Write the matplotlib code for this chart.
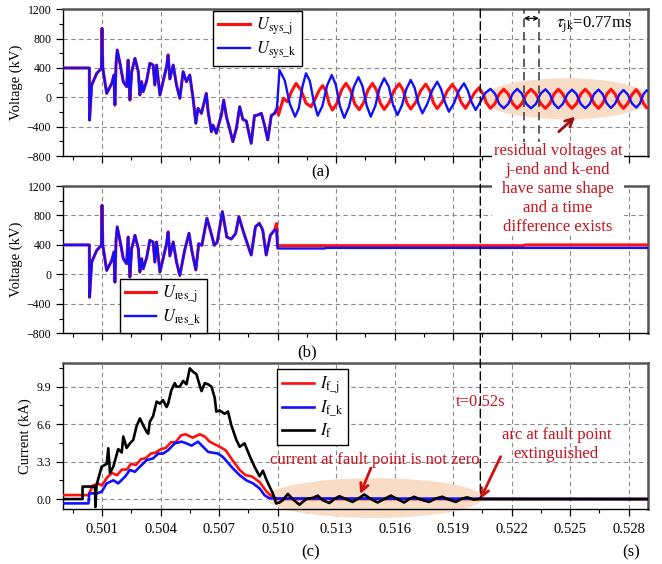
import numpy as np
import matplotlib
matplotlib.use('Agg')
import matplotlib.pyplot as plt
from matplotlib.patches import Ellipse, ConnectionPatch
from matplotlib.ticker import MultipleLocator, FormatStrFormatter

plt.rcParams['font.family'] = ['Liberation Serif', 'DejaVu Serif']
plt.rcParams['mathtext.fontset'] = 'stix'

# ----------------------------------------------------------------------------- data
# voltages (kV), common part of all four voltage traces
T_SHARED = [0.4990, 0.50035, 0.50036, 0.50047, 0.50073, 0.50097, 0.50100, 0.50104, 0.50124, 0.50150,
            0.50161, 0.50166, 0.50172, 0.50178, 0.50192, 0.50209, 0.50226, 0.50234, 0.50243, 0.50252,
            0.50269, 0.50286, 0.50294, 0.50303, 0.50311, 0.50329, 0.50345, 0.50362, 0.50371, 0.50380,
            0.50397, 0.50413, 0.50431, 0.50439, 0.50448, 0.50465, 0.50482, 0.50499]
U_SHARED = [400, 400, -310, 168, 327, 395, 940, 395, 54, 190,
            304, -105, 463, 645, 463, 213, 145, 508, -37, 349,
            531, 349, 31, 213, 76, 227, 463, 440, 168, 440,
            31, 213, 418, 577, 250, 440, 168, -14]

# system side voltages, common part after the split from U_res
T_SYS_MID = [0.50516, 0.50533, 0.50550, 0.50567, 0.50581, 0.50592, 0.50610, 0.50635, 0.50644, 0.50661,
             0.50669, 0.50686, 0.50712, 0.50724, 0.50738, 0.50754, 0.50771, 0.50789, 0.50806, 0.50822,
             0.50840, 0.50848, 0.50865, 0.50882, 0.50899, 0.50917, 0.50933, 0.50950, 0.50968, 0.50985,
             0.50997]
U_SYS_MID = [349, 213, 304, -14, -354, -150, -218, 54, -195, -469,
             -378, -490, -241, -37, -268, -423, -605, -423, -128, -300,
             -323, -423, -627, -250, -241, -218, -378, -580, -250, -218,
             -150]

T_SYS_J = [0.51005, 0.51030, 0.51050, 0.51072, 0.51095, 0.51120, 0.51146, 0.51172, 0.51192, 0.51212,
           0.51231, 0.51248, 0.51265, 0.51282, 0.51305, 0.51328, 0.51351, 0.51374, 0.51396, 0.51419,
           0.51442, 0.51464, 0.51487, 0.51507, 0.51527, 0.51547, 0.51573, 0.51598, 0.51624, 0.51644,
           0.51663, 0.51683, 0.51709, 0.51734, 0.51760, 0.51780, 0.51799, 0.51819, 0.51845, 0.51870,
           0.51896, 0.51919, 0.51941, 0.51964, 0.51987, 0.52010, 0.52033, 0.52053, 0.52072, 0.52092,
           0.52115, 0.52137, 0.52160, 0.52183, 0.52206, 0.52229, 0.52253, 0.52276, 0.52300, 0.52325,
           0.52349, 0.52374, 0.52396, 0.52418, 0.52440, 0.52463, 0.52487, 0.52510, 0.52533, 0.52555,
           0.52578, 0.52601, 0.52623, 0.52646, 0.52667, 0.52689, 0.52710, 0.52731, 0.52753, 0.52774,
           0.52796, 0.52818, 0.52840, 0.52858, 0.52876, 0.52893, 0.52900]
U_SYS_J = [-241, -14, -60, 80, 190, 100, -80, -128, -30, 90,
           160, 90, -90, -173, -80, 100, 191, 100, -90, -170,
           -70, 100, 190, 100, -80, -165, -70, 95, 185, 100,
           -75, -160, -65, 90, 180, 95, -70, -155, -60, 85,
           175, 90, -65, -150, -50, 60, 130, 50, -80, -150,
           -85, 45, 110, 45, -85, -150, -85, 45, 110, 45,
           -85, -150, -85, 45, 110, 45, -85, -150, -85, 45,
           110, 45, -85, -150, -85, 45, 110, 45, -85, -150,
           -85, 40, 105, 40, -80, -145, -140]

T_SYS_K = [0.51010, 0.51037, 0.51063, 0.51090, 0.51109, 0.51128, 0.51146, 0.51166, 0.51186, 0.51206,
           0.51230, 0.51254, 0.51278, 0.51299, 0.51320, 0.51342, 0.51366, 0.51391, 0.51415, 0.51436,
           0.51457, 0.51478, 0.51501, 0.51524, 0.51547, 0.51570, 0.51592, 0.51615, 0.51638, 0.51660,
           0.51683, 0.51703, 0.51723, 0.51743, 0.51768, 0.51794, 0.51819, 0.51839, 0.51859, 0.51879,
           0.51905, 0.51930, 0.51956, 0.51976, 0.51996, 0.52016, 0.52041, 0.52066, 0.52092, 0.52115,
           0.52137, 0.52160, 0.52183, 0.52206, 0.52229, 0.52253, 0.52276, 0.52300, 0.52325, 0.52349,
           0.52374, 0.52396, 0.52418, 0.52440, 0.52463, 0.52487, 0.52510, 0.52533, 0.52555, 0.52578,
           0.52601, 0.52623, 0.52646, 0.52667, 0.52689, 0.52710, 0.52731, 0.52753, 0.52774, 0.52796,
           0.52818, 0.52840, 0.52858, 0.52876, 0.52893, 0.52900]
U_SYS_K = [372, 230, -90, -264, -150, 150, 327, 220, -60, -250,
           -120, 160, 304, 170, -120, -280, -130, 140, 275, 150,
           -110, -264, -120, 130, 259, 150, -100, -241, -110, 110,
           236, 130, -90, -218, -90, 100, 213, 110, -70, -196,
           -80, 90, 191, 90, -70, -173, -60, 60, 115, 50,
           -90, -150, -90, 50, 115, 50, -90, -150, -90, 50,
           110, 45, -90, -150, -90, 45, 105, 45, -90, -150,
           -90, 45, 105, 45, -85, -145, -85, 40, 100, 40,
           -85, -140, -85, 40, 95, 90]

# residual voltages after the split
T_RES_MID = [0.50524, 0.50546, 0.50560, 0.50581, 0.50596, 0.50612, 0.50638, 0.50655, 0.50676, 0.50691,
             0.50717, 0.50740, 0.50763, 0.50785, 0.50802, 0.50822, 0.50848, 0.50865, 0.50887, 0.50907,
             0.50924, 0.50942, 0.50963, 0.50985]
U_RES_MID = [330, 558, 330, 60, 417, 395, 762, 603, 395, 440,
             852, 508, 480, 553, 784, 603, 395, 263, 648, 693,
             603, 263, 530, 603]
T_RES_J = [0.50995, 0.51000, 0.52260, 0.52270, 0.52900]
U_RES_J = [690, 390, 390, 400, 400]
T_RES_K = [0.50995, 0.51000, 0.51240, 0.51250, 0.52900]
U_RES_K = [600, 352, 352, 360, 360]

# currents (kA)
T_IF = [0.49900, 0.50000, 0.50000, 0.50064, 0.50066, 0.50072, 0.50081, 0.50098, 0.50124, 0.50132,
        0.50141, 0.50158, 0.50183, 0.50201, 0.50209, 0.50226, 0.50243, 0.50260, 0.50277, 0.50294,
        0.50311, 0.50329, 0.50337, 0.50345, 0.50362, 0.50380, 0.50397, 0.50413, 0.50431, 0.50439,
        0.50456, 0.50473, 0.50482, 0.50499, 0.50516, 0.50533, 0.50550, 0.50567, 0.50584, 0.50601,
        0.50610, 0.50627, 0.50644, 0.50661, 0.50678, 0.50686, 0.50703, 0.50729, 0.50746, 0.50763,
        0.50789, 0.50806, 0.50831, 0.50857, 0.50882, 0.50908, 0.50925, 0.50942, 0.50959, 0.50976,
        0.50993, 0.51010,
        0.51027, 0.51053, 0.51078, 0.51112, 0.51147, 0.51181, 0.51206, 0.51232, 0.51266, 0.51291,
        0.51317, 0.51351, 0.51385, 0.51419, 0.51445, 0.51479, 0.51513, 0.51547, 0.51581, 0.51615,
        0.51649, 0.51675, 0.51700, 0.51735, 0.51777, 0.51811, 0.51845, 0.51879, 0.51914, 0.51947,
        0.51973, 0.52007, 0.52033, 0.52900]
I_IF = [0.0, 0.0, 1.1, 1.1, -0.7, 1.2, 1.8, 2.85, 3.1, 4.47,
        2.3, 2.85, 4.4, 4.1, 5.5, 4.5, 4.9, 5.2, 6.4, 7.1,
        6.5, 5.9, 5.75, 6.8, 7.3, 8.58, 8.4, 8.7, 8.1, 8.4,
        9.6, 10.2, 9.9, 9.9, 10.4, 10.1, 11.5, 11.2, 11.0, 10.0,
        9.5, 10.2, 10.1, 9.9, 8.9, 7.7, 7.8, 7.5, 7.7, 6.5,
        5.2, 4.6, 4.9, 3.8, 2.85, 2.0, 2.5, 1.75, 1.1, 0.5,
        -0.38, -0.3,
        -0.1, 0.45, 0.0, -0.5, 0.0, 0.1, 0.3, -0.1, -0.35, 0.0,
        0.25, 0.0, -0.25, 0.1, 0.4, 0.0, -0.3, 0.0, 0.3, 0.0,
        -0.3, 0.0, 0.2, -0.05, -0.25, 0.05, 0.2, -0.05, -0.25, 0.05,
        0.15, -0.05, 0.0, 0.0]

T_IF_J = [0.49900, 0.50030, 0.50054, 0.50080, 0.50100, 0.50126, 0.50151, 0.50177, 0.50202, 0.50228,
          0.50248, 0.50274, 0.50299, 0.50325, 0.50350, 0.50376, 0.50402, 0.50427, 0.50453, 0.50478,
          0.50504, 0.50529, 0.50565, 0.50601, 0.50627, 0.50652, 0.50703, 0.50734, 0.50770, 0.50806,
          0.50836, 0.50867, 0.50908, 0.50944, 0.50974, 0.51000, 0.52900]
I_IF_J = [0.35, 0.35, 1.2, 1.35, 1.2, 1.9, 2.3, 2.1, 2.6, 2.6,
          3.1, 3.0, 3.5, 3.6, 4.0, 4.1, 4.4, 4.5, 5.0, 5.0,
          5.6, 5.7, 5.4, 5.7, 5.5, 5.05, 4.6, 4.3, 3.4, 2.56,
          2.1, 2.0, 1.5, 0.65, 0.2, 0.0, 0.0]

T_IF_K = [0.49900, 0.50030, 0.50035, 0.50073, 0.50098, 0.50124, 0.50158, 0.50183, 0.50218, 0.50243,
          0.50269, 0.50294, 0.50329, 0.50362, 0.50388, 0.50413, 0.50439, 0.50473, 0.50508, 0.50533,
          0.50559, 0.50592, 0.50618, 0.50644, 0.50695, 0.50720, 0.50771, 0.50806, 0.50840, 0.50874,
          0.50908, 0.50933, 0.50959, 0.52900]
I_IF_K = [-0.38, -0.38, 0.5, 0.5, 0.64, 1.38, 1.65, 1.38, 1.97, 2.56,
          2.4, 2.85, 3.43, 3.58, 4.0, 4.0, 4.3, 4.9, 5.05, 4.9,
          4.7, 5.05, 4.6, 4.15, 4.0, 3.7, 2.7, 2.1, 1.65, 1.38,
          0.94, 0.35, 0.06, 0.0]

T_ARC_OFF = 0.5204          # arc extinguished
T_TAU = [0.52263, 0.52340]  # tau_jk markers

X_TICKS = [0.501, 0.504, 0.507, 0.510, 0.513, 0.516, 0.519, 0.522, 0.525, 0.528]
U_TICKS = [-800, -400, 0, 400, 800, 1200]
I_TICKS = [0.0, 3.3, 6.6, 9.9]

RED = '#ff1010'
BLUE = '#1010ff'
NOTE = '#c8141e'
SHADE = '#f9dcc6'

# -----------------------------------------------------------------------------


def style_axes(ax, ylim, yticks, yminor, show_x=False):
    ax.set_xlim(0.499, 0.5290)
    ax.set_ylim(*ylim)
    ax.set_xticks(X_TICKS)
    ax.xaxis.set_minor_locator(MultipleLocator(0.0015))
    ax.set_yticks(yticks)
    ax.yaxis.set_minor_locator(MultipleLocator(yminor))
    ax.grid(True, which='major', color='#8a8a8a', linestyle=(0, (4, 3)), lw=0.8)
    ax.set_axisbelow(True)
    ax.tick_params(which='major', direction='out', length=5, width=0.9, labelsize=8.5)
    ax.tick_params(which='minor', direction='out', length=3, width=0.8)
    ax.tick_params(axis='x', labelsize=10.5, pad=5)
    if show_x:
        ax.xaxis.set_major_formatter(FormatStrFormatter('%.3f'))
    else:
        ax.tick_params(axis='x', labelbottom=False)
    for side in ['left', 'bottom']:
        ax.spines[side].set_linewidth(1.0)
    for side in ['top', 'right']:
        ax.spines[side].set_linewidth(1.8)
        ax.spines[side].set_color('#555555')


def legend(ax, loc, anchor):
    lg = ax.legend(loc=loc, bbox_to_anchor=anchor, fontsize=12, frameon=True,
                   fancybox=False, edgecolor='black', framealpha=1,
                   handlelength=1.9, labelspacing=0.15, borderpad=0.3,
                   handletextpad=0.35, borderaxespad=0)
    lg.get_frame().set_linewidth(1.0)
    return lg


fig = plt.figure(figsize=(6.62, 5.64), dpi=100)
ax1 = fig.add_axes([0.0952, 0.7234, 0.8837, 0.2601])
ax2 = fig.add_axes([0.0952, 0.4090, 0.8837, 0.2612])
ax3 = fig.add_axes([0.0952, 0.0970, 0.8837, 0.2599])

# --- (a) system voltages
t_sys_j = np.concatenate([T_SHARED, T_SYS_MID, T_SYS_J])
u_sys_j = np.concatenate([U_SHARED, U_SYS_MID, U_SYS_J])
t_sys_k = np.concatenate([T_SHARED, T_SYS_MID, T_SYS_K])
u_sys_k = np.concatenate([U_SHARED, U_SYS_MID, U_SYS_K])

ax1.add_patch(Ellipse((0.52482, -20), 0.00858, 560, facecolor=SHADE, edgecolor='none', zorder=1))
ax1.plot(t_sys_j, u_sys_j, color=RED, lw=2.2, label=r'$U_{\mathrm{sys\_j}}$', zorder=3)
ax1.plot(t_sys_k, u_sys_k, color=BLUE, lw=1.7, label=r'$U_{\mathrm{sys\_k}}$', zorder=4)
style_axes(ax1, (-800, 1200), U_TICKS, 200)
ax1.set_ylabel('Voltage (kV)', fontsize=10.5)
ax1.yaxis.set_label_coords(-0.068, 0.5)
legend(ax1, 'upper left', (0.257, 0.99))

ax1.vlines(T_TAU, -677, 1200, colors='#444444', linestyles=(0, (5, 3)), lw=1.2, zorder=5)
ax1.annotate('', xy=(T_TAU[0], 1077), xytext=(T_TAU[1], 1077),
             arrowprops=dict(arrowstyle='<->', lw=0.9, color='black', mutation_scale=7,
                             shrinkA=0, shrinkB=0))
ax1.text(0.52429, 985, r'$\tau_{\mathrm{jk}}$=0.77ms', fontsize=12, va='center', ha='left')
ax1.annotate('', xy=(0.52527, -264), xytext=(0.52442, -469),
             arrowprops=dict(arrowstyle='->', lw=2.0, color='#a01010', mutation_scale=14,
                             shrinkA=0, shrinkB=0), annotation_clip=False)

# --- (b) residual voltages
t_res_j = np.concatenate([T_SHARED, T_RES_MID, T_RES_J])
u_res_j = np.concatenate([U_SHARED, U_RES_MID, U_RES_J])
t_res_k = np.concatenate([T_SHARED, T_RES_MID, T_RES_K])
u_res_k = np.concatenate([U_SHARED, U_RES_MID, U_RES_K])

ax2.plot(t_res_j, u_res_j, color=RED, lw=2.2, label=r'$U_{\mathrm{res\_j}}$', zorder=3)
ax2.plot(t_res_k, u_res_k, color=BLUE, lw=1.7, label=r'$U_{\mathrm{res\_k}}$', zorder=4)
style_axes(ax2, (-800, 1200), U_TICKS, 200)
ax2.set_ylabel('Voltage (kV)', fontsize=10.5)
ax2.yaxis.set_label_coords(-0.068, 0.5)
legend(ax2, 'lower left', (0.097, 0.0))

# --- (c) currents
ax3.add_patch(Ellipse((0.51496, 0.09), 0.01108, 3.5, facecolor=SHADE, edgecolor='none',
                      zorder=1, clip_on=False))
ax3.plot(T_IF_J, I_IF_J, color=RED, lw=1.9, label=r'$I_{\mathrm{f\_j}}$', zorder=3)
ax3.plot(T_IF_K, I_IF_K, color=BLUE, lw=1.9, label=r'$I_{\mathrm{f\_k}}$', zorder=3)
ax3.plot(T_IF, I_IF, color='black', lw=1.9, label=r'$I_{\mathrm{f}}$', zorder=4)
style_axes(ax3, (-0.9, 12.0), I_TICKS, 1.65, show_x=True)
ax3.yaxis.set_major_formatter(FormatStrFormatter('%.1f'))
ax3.set_ylabel('Current (kA)', fontsize=10.5)
ax3.yaxis.set_label_coords(-0.053, 0.5)
legend(ax3, 'upper left', (0.366, 0.955))

ax3.text(T_ARC_OFF, 8.58, 't=0.52s', color=NOTE, fontsize=12, ha='center', va='center',
         bbox=dict(facecolor='white', edgecolor='none', pad=0.5), zorder=8)
ax3.text(0.52430, 4.8, 'arc at fault point\nextinguished', color=NOTE, fontsize=12,
         ha='center', va='center', linespacing=1.2)
ax3.text(0.51500, 3.44, 'current at fault point is not zero', color=NOTE, fontsize=12,
         ha='center', va='center')
arrow = dict(arrowstyle='->', lw=2.0, color='#d01010', mutation_scale=14, shrinkA=0, shrinkB=0)
ax3.annotate('', xy=(0.51424, 0.44), xytext=(0.51479, 2.73), arrowprops=arrow)
ax3.annotate('', xy=(T_ARC_OFF, 0.0), xytext=(0.52144, 3.73), arrowprops=arrow)

# dashed line through all panels at arc extinction
con = ConnectionPatch(xyA=(T_ARC_OFF, 1200), coordsA=ax1.transData,
                      xyB=(T_ARC_OFF, 0.0), coordsB=ax3.transData,
                      linestyle=(0, (6, 3)), color='black', lw=1.0, zorder=6)
fig.add_artist(con)

fig.text(558 / 662, 1 - 143 / 564,
         'residual voltages at\nj-end and k-end\nhave same shape\nand a time\ndifference exists',
         color=NOTE, fontsize=12, ha='center', va='top', linespacing=1.25,
         bbox=dict(facecolor='white', edgecolor='none', pad=1), zorder=10)

fig.text(321 / 662, 1 - 172 / 564, '(a)', fontsize=12, ha='center', va='center')
fig.text(307 / 662, 1 - 352 / 564, '(b)', fontsize=12, ha='center', va='center')
fig.text(311 / 662, 1 - 552 / 564, '(c)', fontsize=12, ha='center', va='center')
fig.text(631 / 662, 1 - 552 / 564, '(s)', fontsize=12, ha='center', va='center')

fig.savefig('out.png', dpi=100)
